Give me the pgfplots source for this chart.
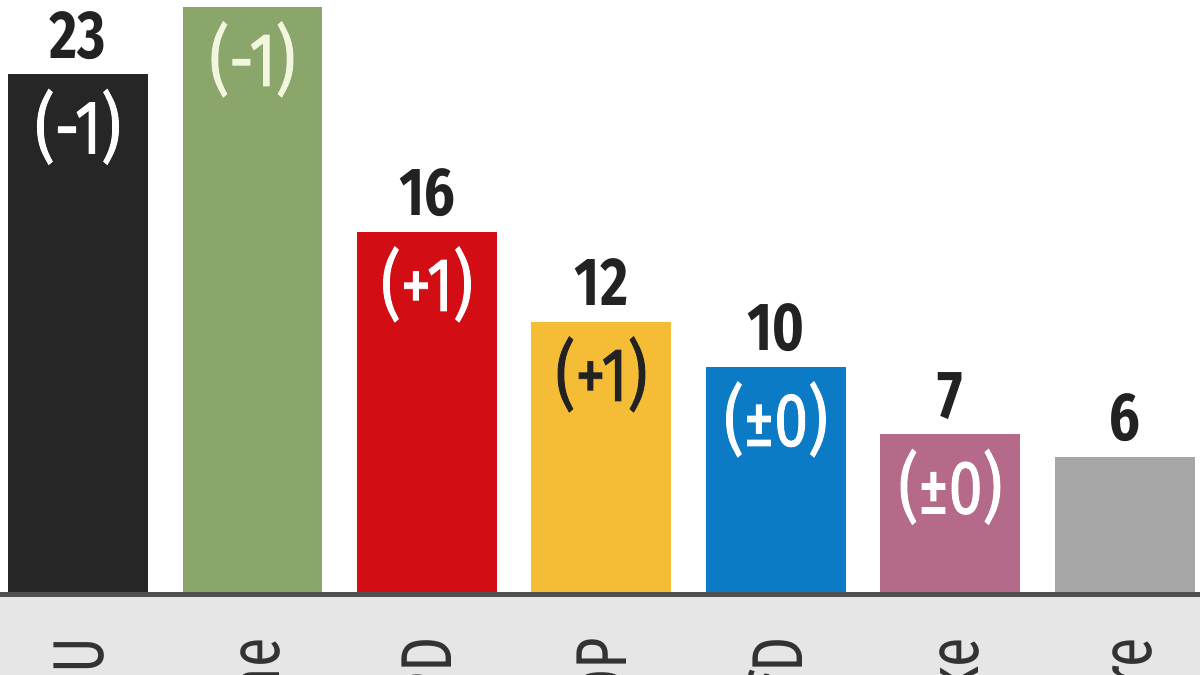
\documentclass[border=0pt]{standalone}
\usepackage{pgfplots}
\pgfplotsset{compat=1.18}
\usepackage{fontspec}
\setmainfont{Fira Sans}
\newfontfamily\condfont[FakeStretch=0.8]{Fira Sans}
\newfontfamily\deltfont[FakeStretch=0.8, FakeBold=1.2]{Fira Sans}
\newfontfamily\labfont[FakeStretch=0.75]{Fira Sans}

\definecolor{cdu}{HTML}{262626}
\definecolor{gruene}{HTML}{8BA66B}
\definecolor{spd}{HTML}{D20E14}
\definecolor{fdp}{HTML}{F5BD36}
\definecolor{afd}{HTML}{0B7BC6}
\definecolor{linke}{HTML}{B46A88}
\definecolor{andere}{HTML}{A6A6A6}
\definecolor{band}{HTML}{E6E6E6}
\definecolor{baseln}{HTML}{505050}
\definecolor{ink}{HTML}{222222}
\definecolor{labink}{HTML}{333333}
\definecolor{cream}{HTML}{F2F6DF}

\newcommand\valfont{\condfont\bfseries\fontsize{68bp}{68bp}\selectfont}
\newcommand\deltafont{\deltfont\fontsize{76bp}{76bp}\selectfont}

\begin{document}
\begin{tikzpicture}
\path[use as bounding box, clip] (0,0) rectangle (1200bp,675bp);
\fill[white] (0,0) rectangle (1200bp,675bp);
\fill[band] (0,0) rectangle (1200bp,78bp);
\begin{axis}[
    at={(0,0)}, anchor=south west,
    scale only axis,
    width=1200bp, height=675bp,
    xmin=-0.447, xmax=6.430,
    ymin=-3.689, ymax=26.31,
    axis line style={draw=none},
    major tick length=0pt,
    ytick=\empty,
    xtick={0,...,6},
    xticklabels={CDU/CSU, Grüne, SPD, FDP, AfD, Linke, Andere},
    xticklabel shift=-37bp,
    xticklabel style={rotate=90, anchor=east, inner sep=0pt,
        font=\labfont\fontsize{72bp}{72bp}\selectfont, text=labink},
    ybar, bar width=0.802,
    point meta=explicit symbolic,
    valnode/.style={bar shift=0pt, nodes near coords,
        every node near coord/.append style={anchor=base, yshift=16bp,
            inner sep=0pt, font=\valfont, text=ink}},
    deltanode/.style={bar shift=0pt, draw=none, fill=none, nodes near coords,
        every node near coord/.append style={anchor=base, yshift=-79bp,
            inner sep=0pt, font=\deltafont, text=#1}},
    clip=false,
]
% base line
\draw[baseln, line width=5bp] (axis cs:-0.447,-0.11) -- (axis cs:6.430,-0.11);

% bars with values
\addplot[fill=cdu, draw=none, valnode] coordinates {(0,23) [23]};
\addplot[fill=gruene, draw=none, valnode] coordinates {(1,26) [26]};
\addplot[fill=spd, draw=none, valnode] coordinates {(2,16) [16]};
\addplot[fill=fdp, draw=none, valnode] coordinates {(3,12) [12]};
\addplot[fill=afd, draw=none, valnode] coordinates {(4,10) [10]};
\addplot[fill=linke, draw=none, valnode] coordinates {(5,7) [7]};
\addplot[fill=andere, draw=none, valnode] coordinates {(6,6) [6]};

% changes
\addplot[deltanode=white] coordinates {(0,23) [(-1)]};
\addplot[deltanode=cream] coordinates {(1,26) [(-1)]};
\addplot[deltanode=white] coordinates {(2,16) [(+1)]};
\addplot[deltanode=ink] coordinates {(3,12) [(+1)]};
\addplot[deltanode=white] coordinates {(4,10) [(±0)]};
\addplot[deltanode=white] coordinates {(5,7) [(±0)]};
\end{axis}
\end{tikzpicture}
\end{document}
